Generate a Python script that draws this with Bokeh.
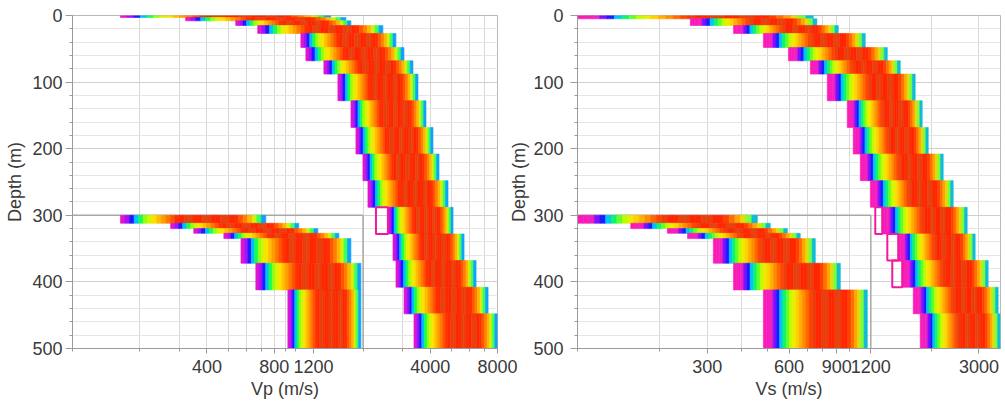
import numpy as np
from bokeh.plotting import figure
from bokeh.layouts import row
from bokeh.models import Range1d, FixedTicker, SingleIntervalTicker, BasicTickFormatter
from bokeh.embed import file_html
from bokeh.resources import INLINE

# ---------------- data ----------------
depth_range = (500, 0)
vp_range = (100, 8000)
vs_range = (100, 3600)
vp_ticks = [400, 800, 1200, 4000, 8000]
vs_ticks = [300, 600, 900, 1200, 3000]

# Vp ensemble, main group (layer top/bottom depth, min/max velocity)
vp_top = [0, 3, 8, 15, 27, 48, 68, 88, 128, 168, 208, 248, 288, 328, 368, 408, 448]
vp_bottom = [3, 8, 15, 27, 48, 68, 88, 128, 168, 208, 248, 288, 328, 368, 408, 448, 500]
vp_min = [164, 321, 538, 675, 1053, 1109, 1335, 1543, 1765, 1858, 1997, 2103, 2585, 2723, 2808, 3051, 3381]
vp_max = [1435, 1676, 1765, 2455, 2808, 3051, 3347, 3525, 3828, 4115, 4378, 4804, 5058, 5668, 6415, 7261, 8000]

# Vp ensemble, lower-left group
vp_in_top = [300, 312, 320, 327, 335, 372, 412]
vp_in_bottom = [312, 320, 327, 335, 372, 412, 500]
vp_in_min = [164, 275, 349, 476, 568, 662, 921]
vp_in_max = [734, 1031, 1255, 1559, 1765, 1956, 1956]
vp_in_edge = 2000

# Vp worst-model outlines
vp_out_top = [288]
vp_out_bottom = [328]
vp_out_lo = [2285]
vp_out_hi = [2585]

# Vs ensemble, main group
vs_top = [0, 5, 15, 27, 48, 68, 88, 128, 168, 208, 248, 288, 328, 368, 408, 448]
vs_bottom = [5, 15, 27, 48, 68, 88, 128, 168, 208, 248, 288, 328, 368, 408, 448, 500]
vs_min = [100, 260, 375, 483, 597, 719, 830, 983, 1034, 1098, 1195, 1322, 1514, 1566, 1719, 1824]
vs_max = [737, 760, 911, 1145, 1380, 1540, 1748, 1855, 1952, 2216, 2412, 2715, 2905, 3243, 3530, 3590]

# Vs ensemble, lower-left group
vs_in_top = [300, 312, 320, 327, 335, 372, 412]
vs_in_bottom = [312, 320, 327, 335, 372, 412, 500]
vs_in_min = [100, 157, 214, 254, 316, 375, 483]
vs_in_max = [459, 512, 592, 660, 750, 927, 1165]
vs_in_edge = 1200

# Vs worst-model outlines
vs_out_top = [288, 328, 368]
vs_out_bottom = [328, 368, 408]
vs_out_lo = [1246, 1380, 1439]
vs_out_hi = [1322, 1514, 1566]

# ---------------- styling ----------------
FONT = "Liberation Sans"
TXT = "#3a3a3a"
STOPS_VP = [(0.00, "#ff18b4"), (0.05, "#a010ff"), (0.08, "#1a1aff"), (0.11, "#00c0ff"),
            (0.14, "#10ff50"), (0.18, "#b8ff00"), (0.23, "#ffe400"), (0.29, "#ffa400"),
            (0.35, "#ff6000"), (0.40, "#ff2600"), (0.79, "#ff2600"), (0.85, "#ff7000"),
            (0.89, "#ffb400"), (0.93, "#c4ff10"), (0.96, "#10ff70"), (0.985, "#10a0ff"),
            (1.00, "#3010ff")]
STOPS_VS = [(0.00, "#ff18b4"), (0.08, "#f020c0"), (0.11, "#8010ff"), (0.14, "#1a1aff"),
            (0.17, "#00c0ff"), (0.21, "#10ff50"), (0.26, "#b8ff00"), (0.31, "#ffe400"),
            (0.37, "#ffa400"), (0.43, "#ff6000"), (0.48, "#ff2600"), (0.81, "#ff2600"),
            (0.86, "#ff7000"), (0.90, "#ffb400"), (0.94, "#c4ff10"), (0.97, "#10ff70"),
            (0.99, "#10a0ff"), (1.00, "#3010ff")]


def hex2rgb(h):
    return tuple(int(h[i:i + 2], 16) for i in (1, 3, 5))


def ramp(t, stops):
    for (t0, c0), (t1, c1) in zip(stops[:-1], stops[1:]):
        if t <= t1:
            f = (t - t0) / (t1 - t0) if t1 > t0 else 0.0
            a, b = hex2rgb(c0), hex2rgb(c1)
            return "#%02x%02x%02x" % tuple(int(round(a[k] + (b[k] - a[k]) * f)) for k in range(3))
    return stops[-1][1]


NB = 32


def bands(tops, bottoms, vmins, vmaxs, stops):
    core = [t for t, c in stops if c == "#ff2600"]
    c0, c1 = min(core), max(core)
    L, R, T, B, C = [], [], [], [], []
    for top, bot, lo, hi in zip(tops, bottoms, vmins, vmaxs):
        edges = np.geomspace(lo, hi, NB + 1)
        for i in range(NB):
            t = (i + 0.5) / NB
            c = ramp(t, stops)
            if c0 < t < c1 and (i // 2) % 2:
                c = "#e8400e"
            L.append(edges[i]); R.append(edges[i + 1])
            T.append(top); B.append(bot); C.append(c)
    return dict(left=L, right=R, top=T, bottom=B, color=C)


def grid_values(vmax):
    vals = []
    for dec in (100, 1000):
        for k in range(1, 10):
            if k * dec <= vmax:
                vals.append(k * dec)
    return vals


def make_panel(xr, xlabel, ticks, main, inset, outl, edge, width, bl, br, ylab_standoff, tick_standoff):
    p = figure(width=width, height=408, x_axis_type="log",
               x_range=Range1d(*xr), y_range=Range1d(*depth_range),
               output_backend="svg", toolbar_location=None,
               min_border_left=bl, min_border_right=br, min_border_top=15, min_border_bottom=60)
    p.background_fill_color = "white"
    p.outline_line_color = "#b8b8b8"

    gx = grid_values(xr[1])
    p.xaxis.ticker = FixedTicker(ticks=ticks, minor_ticks=gx)
    p.xaxis.formatter = BasicTickFormatter(use_scientific=False)
    p.xaxis.major_label_overrides = {v: str(v) for v in ticks}
    p.yaxis.ticker = SingleIntervalTicker(interval=100, num_minor_ticks=5)

    p.xgrid.ticker = FixedTicker(ticks=gx)
    p.xgrid.grid_line_color = "#d9d9d9"
    p.ygrid.grid_line_color = "#cfcfcf"
    p.ygrid.minor_grid_line_color = "#e6e6e6"

    for ax in (p.xaxis[0], p.yaxis[0]):
        ax.axis_line_color = "#9a9a9a"
        ax.major_tick_line_color = "#9a9a9a"
        ax.minor_tick_line_color = "#9a9a9a"
        ax.major_tick_in = 0
        ax.minor_tick_in = 0
        ax.minor_tick_out = 3
        ax.major_label_text_font = FONT
        ax.major_label_text_font_size = "18px"
        ax.major_label_text_color = TXT
        ax.axis_label_text_font = FONT
        ax.axis_label_text_font_size = "18px"
        ax.axis_label_text_font_style = "normal"
        ax.axis_label_text_color = TXT
    p.xaxis.axis_label = xlabel
    p.yaxis.axis_label = "Depth (m)"
    p.xaxis.major_tick_out = 5
    p.xaxis.major_label_standoff = 6
    p.xaxis.axis_label_standoff = 3
    p.yaxis.major_tick_out = 7
    p.yaxis.major_label_standoff = tick_standoff
    p.yaxis.axis_label_standoff = ylab_standoff

    # lower-left group frame
    p.segment(x0=[xr[0], edge], y0=[300, 300], x1=[edge, edge], y1=[300, 500],
              line_color="#a8a8a8", line_width=1.5)

    for src in (main, inset):
        p.quad(left="left", right="right", top="top", bottom="bottom", source=src,
               fill_color="color", line_color="color", line_width=0.6)
    p.quad(left=outl[2], right=outl[3], top=outl[0], bottom=outl[1],
           fill_color=None, line_color="#f01aa0", line_width=2)
    return p


p1 = make_panel(vp_range, "Vp (m/s)", vp_ticks,
                bands(vp_top, vp_bottom, vp_min, vp_max, STOPS_VP),
                bands(vp_in_top, vp_in_bottom, vp_in_min, vp_in_max, STOPS_VP),
                (vp_out_top, vp_out_bottom, vp_out_lo, vp_out_hi), vp_in_edge,
                width=520, bl=72, br=23, ylab_standoff=4, tick_standoff=3)
p2 = make_panel(vs_range, "Vs (m/s)", vs_ticks,
                bands(vs_top, vs_bottom, vs_min, vs_max, STOPS_VS),
                bands(vs_in_top, vs_in_bottom, vs_in_min, vs_in_max, STOPS_VS),
                (vs_out_top, vs_out_bottom, vs_out_lo, vs_out_hi), vs_in_edge,
                width=500, bl=72, br=5, ylab_standoff=1, tick_standoff=7)
p2.border_fill_alpha = 0
p2.margin = (0, 0, 0, -15)

layout = row(p1, p2)
open("out.html", "w").write(file_html(layout, INLINE))
